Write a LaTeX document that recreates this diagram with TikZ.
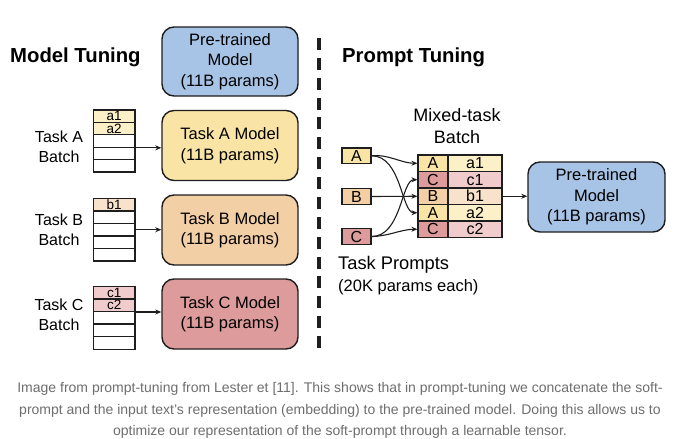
\documentclass[tikz,border=0pt]{standalone}
\usepackage{fontspec}
\setmainfont{Liberation Sans}
\usetikzlibrary{arrows.meta}
\definecolor{lineC}{HTML}{1E1E1E}
\definecolor{blueF}{HTML}{A7C3E5}
\definecolor{yelA}{HTML}{F9E4A6}
\definecolor{yelB}{HTML}{FCF0C8}
\definecolor{oraA}{HTML}{F3CFA5}
\definecolor{oraB}{HTML}{F8E2CC}
\definecolor{redA}{HTML}{DD9B9B}
\definecolor{redB}{HTML}{F1CCCC}
\definecolor{capC}{HTML}{6E6E6E}
\newcommand\fsz[2]{\fontsize{#1}{#2}\selectfont}
\newcommand\lowtxt[1]{\raisebox{-1.5pt}{#1}}
\begin{document}
\begin{tikzpicture}[x=1pt,y=-1pt,inner sep=0pt,
  model/.style={draw=lineC,line width=1.4pt,rounded corners=12pt,minimum width=136pt,minimum height=70pt,align=center,font=\fsz{16.5}{20.5}},
  lrow/.style={draw=lineC,line width=1.2pt,minimum width=41.7pt,minimum height=12.4pt,font=\fsz{13.5}{13.5}},
  prow/.style={draw=lineC,line width=1.2pt,minimum height=16.5pt,font=\fsz{16}{16}},
  pbox/.style={draw=lineC,line width=1.2pt,minimum width=29pt,minimum height=15.5pt,font=\fsz{16}{16}},
  lab/.style={align=center,font=\fsz{16}{20}},
  ttl/.style={anchor=west,font=\fsz{20.3}{22}\bfseries},
  arr/.style={draw=lineC,line width=1.1pt,-{Stealth[length=6pt,width=5pt]}},
  captxt/.style={text=capC,font=\fsz{14}{16}}
]
\fill[white] (0,0) rectangle (680,439);
\useasboundingbox (0,0) rectangle (680,439);

% titles
\node[ttl] (t1) at (10,57) {Model Tuning};
\node[ttl] (t2) at (342,57) {Prompt Tuning};

% divider
\draw[lineC,line width=3.3pt,dash pattern=on 12pt off 7.87pt] (319,38) -- (319,350);

% left models
\node[model,fill=blueF,minimum height=69pt] (pt1) at (230,61.5) {Pre-trained\\Model\\(11B params)};
\node[model,fill=yelA] (mA) at (230,145.5) {Task A Model\\(11B params)};
\node[model,fill=oraA] (mB) at (230,230) {Task B Model\\(11B params)};
\node[model,fill=redA] (mC) at (230,314) {Task C Model\\(11B params)};

% left labels
\node[lab] (lA) at (59,147) {Task A\\Batch};
\node[lab] (lB) at (59,230) {Task B\\Batch};
\node[lab] (lC) at (59,315) {Task C\\Batch};

% task A batch
\node[lrow,fill=yelB] (a1) at (114.2,116.2) {\lowtxt{a1}};
\node[lrow,fill=yelB] (a2) at (114.2,128.6) {\lowtxt{a2}};
\node[lrow,fill=white] (a3) at (114.2,141.0) {};
\node[lrow,fill=white] (a4) at (114.2,153.4) {};
\node[lrow,fill=white] (a5) at (114.2,165.8) {};
% task B batch
\node[lrow,fill=oraB] (b1) at (114.2,204.6) {\lowtxt{b1}};
\node[lrow,fill=white] (b2) at (114.2,217.1) {};
\node[lrow,fill=white] (b3) at (114.2,229.7) {};
\node[lrow,fill=white] (b4) at (114.2,242.2) {};
\node[lrow,fill=white] (b5) at (114.2,254.8) {};
% task C batch
\node[lrow,fill=redB] (c1) at (114.2,292.6) {\lowtxt{c1}};
\node[lrow,fill=redB] (c2) at (114.2,305.2) {\lowtxt{c2}};
\node[lrow,fill=white] (c3) at (114.2,317.8) {};
\node[lrow,fill=white] (c4) at (114.2,330.4) {};
\node[lrow,fill=white] (c5) at (114.2,343.0) {};

\draw[arr] (a3.south east) -- (a3.south east -| mA.west);
\draw[arr] (b3.east) -- (b3.east -| mB.west);
\draw[arr] (c2.south east) -- (c2.south east -| mC.west);

% right side
\node[lab,font=\fsz{18}{22}] (mix) at (457,126) {Mixed-task\\Batch};
\node[pbox,fill=yelA] (pA) at (356.5,155.8) {A};
\node[pbox,fill=oraA] (pB) at (356.5,196.5) {B};
\node[pbox,fill=redA] (pC) at (356.5,236.5) {C};

\node[prow,fill=yelA,minimum width=30pt] (l1) at (433,163.25) {A};
\node[prow,fill=redA,minimum width=30pt] (l2) at (433,179.75) {C};
\node[prow,fill=oraA,minimum width=30pt] (l3) at (433,196.25) {B};
\node[prow,fill=yelA,minimum width=30pt] (l4) at (433,212.75) {A};
\node[prow,fill=redA,minimum width=30pt] (l5) at (433,229.25) {C};
\node[prow,fill=yelB,minimum width=54pt] (r1) at (475,163.25) {a1};
\node[prow,fill=redB,minimum width=54pt] (r2) at (475,179.75) {c1};
\node[prow,fill=oraB,minimum width=54pt] (r3) at (475,196.25) {b1};
\node[prow,fill=yelB,minimum width=54pt] (r4) at (475,212.75) {a2};
\node[prow,fill=redB,minimum width=54pt] (r5) at (475,229.25) {c2};

\node[model,fill=blueF,minimum width=137pt] (pt2) at (596.5,197) {Pre-trained\\Model\\(11B params)};

\draw[arr] (pA.east) .. controls +(16,-2) and +(-16,0) .. (l1.west);
\draw[arr] (pA.east) .. controls +(30,0) and +(-16,0) .. (l4.west);
\draw[arr] (pB.east) -- (l3.west);
\draw[arr] (pC.east) .. controls +(30,0) and +(-16,0) .. (l2.west);
\draw[arr] (pC.east) .. controls +(16,0) and +(-16,0) .. (l5.west);
\draw[arr] (r3.east) -- (r3.east -| pt2.west);

\node[anchor=west,font=\fsz{18.3}{22}] (tp1) at (338,265) {Task Prompts};
\node[anchor=west,font=\fsz{16.5}{20}] (tp2) at (338,287) {(20K params each)};

% caption
\node[captxt] (cp1) at (340,389) {Image from prompt-tuning from Lester et [11]. This shows that in prompt-tuning we concatenate the soft-};
\node[captxt] (cp2) at (340,410.5) {prompt and the input text’s representation (embedding) to the pre-trained model. Doing this allows us to};
\node[captxt] (cp3) at (340,432) {optimize our representation of the soft-prompt through a learnable tensor.};
\end{tikzpicture}
\end{document}
